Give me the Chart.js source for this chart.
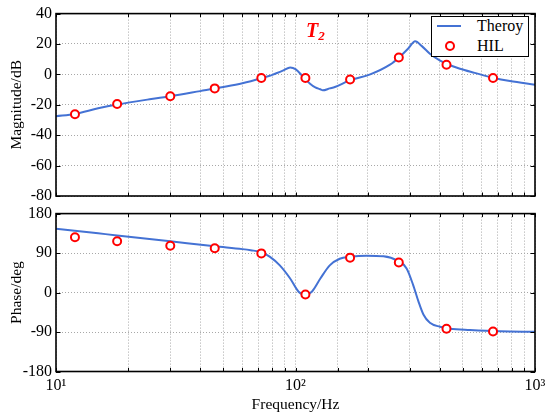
<!DOCTYPE html>
<html>
<head>
<meta charset="utf-8">
<script src="https://cdn.jsdelivr.net/npm/chart.js@4"></script>
<style>
  html, body { margin: 0; padding: 0; background: #fff; }
  #wrap { position: relative; width: 556px; height: 420px; font-family: "Liberation Serif", "DejaVu Serif", serif; }
  canvas { position: absolute; left: 0; }
  #c1 { top: 0; z-index: 1; }
  #c2 { top: 200px; z-index: 2; }
  #legend { position: absolute; left: 431px; top: 16px; width: 96px; height: 39px; border: 1px solid #000; background: #fff; z-index: 5; }
  .lgtext { position: absolute; left: 45px; font-size: 16px; line-height: 16px; color: #000; }
  #lgline { position: absolute; left: 5px; top: 8px; width: 24px; height: 2px; background: #4472d4; }
  #lgcirc { position: absolute; left: 13px; top: 24px; width: 6px; height: 6px; border: 2px solid #ff0000; border-radius: 50%; background: #fff; }
  #t2 { position: absolute; left: 306px; top: 20px; color: #ff0000; font-weight: bold; font-style: italic; font-size: 20px; line-height: 20px; z-index: 5; }
  #t2 sub { font-size: 13px; vertical-align: -3px; line-height: 0; }
</style>
</head>
<body>
<div id="wrap">
  <canvas id="c1" width="556" height="230"></canvas>
  <canvas id="c2" width="556" height="220"></canvas>
  <div id="t2">T<sub>2</sub></div>
  <div id="legend">
    <div id="lgline"></div>
    <div class="lgtext" style="top:1px">Theroy</div>
    <div id="lgcirc"></div>
    <div class="lgtext" style="top:21px">HIL</div>
  </div>
</div>
<script>
// ---- Data ----
const theoryFreqMag = [10, 12, 15, 18, 25, 30, 40, 50, 60, 72, 80, 89, 95, 100, 108, 115, 121, 127, 130, 139, 146, 169, 205, 248, 270, 295, 316, 337, 364, 400, 427, 486, 560, 668, 786, 1000];
const theoryMag     = [-27.5, -26, -22.3, -19.8, -16.2, -14.4, -11, -8.3, -5.8, -2.5, -0.3, 2.6, 4.6, 3.5, -1.8, -6.1, -8.5, -9.8, -10.5, -9.2, -8.3, -3.8, 0, 6.4, 11, 16.9, 21.8, 18.6, 13.6, 9.3, 7, 3.7, 1, -2.2, -4.4, -6.8];

const theoryFreqPhase = [10, 15, 18, 30, 46, 60, 65, 72, 78, 86, 95, 103, 110, 117, 127, 139, 153, 169, 198, 233, 265, 291, 310, 326, 342, 364, 401, 442, 535, 714, 1000];
const theoryPhase     = [145.5, 135, 130.3, 116.8, 105.3, 99, 96.5, 92, 82, 62, 32, 2, -5, 2, 32, 62, 77, 81.5, 84, 82.5, 73.5, 55, 17, -20, -50, -69, -78, -82.5, -85.5, -88.5, -89.5];

const hilFreq  = [12, 18, 30, 46, 72, 110, 169, 270, 427, 668];
const hilMag   = [-26.2, -19.5, -14.4, -9.2, -2.4, -2.4, -3.3, 11.1, 6.4, -2.4];
const hilPhase = [126, 117, 106.6, 101, 89.3, -4.5, 79.6, 68.4, -82.4, -89];

const magTicks = [-80, -60, -40, -20, 0, 20, 40];
const phaseTicks = [-180, -90, 0, 90, 180];
const decadeLabels = { 10: '10\u00B9', 100: '10\u00B2', 1000: '10\u00B3' };

// ---- Styles ----
const FONT = "'Liberation Serif', 'DejaVu Serif', serif";
const BLUE = '#4472d4';
const RED = '#ff0000';
const GRID = '#a8a8a8';

function pts(xs, ys) { return xs.map((x, i) => ({ x: x, y: ys[i] })); }

const framePlugin = {
  id: 'frame',
  afterDraw(chart) {
    const { ctx, chartArea: a, scales } = chart;
    ctx.save();
    ctx.strokeStyle = '#000';
    ctx.lineWidth = 1;
    ctx.beginPath();
    const tl = 3.5;
    scales.x.ticks.forEach(t => {
      const px = Math.round(scales.x.getPixelForValue(t.value)) + 0.5;
      ctx.moveTo(px, a.bottom); ctx.lineTo(px, a.bottom - tl);
      ctx.moveTo(px, a.top); ctx.lineTo(px, a.top + tl);
    });
    scales.y.ticks.forEach(t => {
      const py = Math.round(scales.y.getPixelForValue(t.value)) + 0.5;
      ctx.moveTo(a.left, py); ctx.lineTo(a.left + tl + 1, py);
      ctx.moveTo(a.right, py); ctx.lineTo(a.right - tl - 1, py);
    });
    ctx.stroke();
    ctx.lineWidth = 1.6;
    ctx.strokeRect(a.left, a.top, a.right - a.left, a.bottom - a.top);
    ctx.restore();
  }
};

function makeChart(id, cfg) {
  const showX = cfg.showX;
  return new Chart(document.getElementById(id), {
    type: 'scatter',
    data: {
      datasets: [
        {
          label: 'HIL',
          data: pts(hilFreq, cfg.hil),
          order: 0,
          showLine: false,
          pointRadius: 4,
          pointBorderWidth: 2,
          pointBorderColor: RED,
          pointBackgroundColor: '#fff'
        },
        {
          label: 'Theroy',
          data: pts(cfg.tf, cfg.tv),
          order: 1,
          showLine: true,
          borderColor: BLUE,
          borderWidth: 2,
          pointRadius: 0,
          cubicInterpolationMode: 'monotone',
          fill: false
        }
      ]
    },
    options: {
      responsive: false,
      animation: false,
      devicePixelRatio: 1,
      layout: { padding: { left: 0, right: 21, top: cfg.padTop, bottom: 0 } },
      plugins: { legend: { display: false }, tooltip: { enabled: false } },
      scales: {
        x: {
          type: 'logarithmic',
          min: 10, max: 1000,
          afterFit(scale) { scale.height = cfg.xHeight; },
          grid: { color: GRID, lineWidth: 1, drawTicks: false },
          border: { display: false, dash: [1, 2] },
          ticks: {
            display: showX,
            autoSkip: false,
            maxRotation: 0,
            padding: 5,
            color: '#000',
            font: { family: FONT, size: 16 },
            callback: (v) => decadeLabels[v] || ''
          },
          title: {
            display: showX,
            text: 'Frequency/Hz',
            color: '#000',
            font: { family: FONT, size: 15.5 },
            padding: { top: 0, bottom: 6 }
          }
        },
        y: {
          min: cfg.ymin, max: cfg.ymax,
          afterFit(scale) { scale.width = 56; },
          afterBuildTicks(scale) { scale.ticks = cfg.yticks.map(v => ({ value: v })); },
          grid: { color: GRID, lineWidth: 1, drawTicks: false },
          border: { display: false, dash: [1, 2] },
          ticks: {
            padding: 4,
            color: '#000',
            font: { family: FONT, size: 16 },
            callback: (v) => String(v)
          },
          title: {
            display: true,
            text: cfg.ytitle,
            color: '#000',
            font: { family: FONT, size: 15.5 },
            padding: { top: 8, bottom: 0 }
          }
        }
      }
    },
    plugins: [framePlugin]
  });
}

makeChart('c1', {
  showX: false, xHeight: 34, padTop: 13,
  tf: theoryFreqMag, tv: theoryMag, hil: hilMag,
  ymin: -80, ymax: 40, yticks: magTicks, ytitle: 'Magnitude/dB'
});
makeChart('c2', {
  showX: true, xHeight: 48.5, padTop: 11,
  tf: theoryFreqPhase, tv: theoryPhase, hil: hilPhase,
  ymin: -180, ymax: 180, yticks: phaseTicks, ytitle: 'Phase/deg'
});
</script>
</body>
</html>
